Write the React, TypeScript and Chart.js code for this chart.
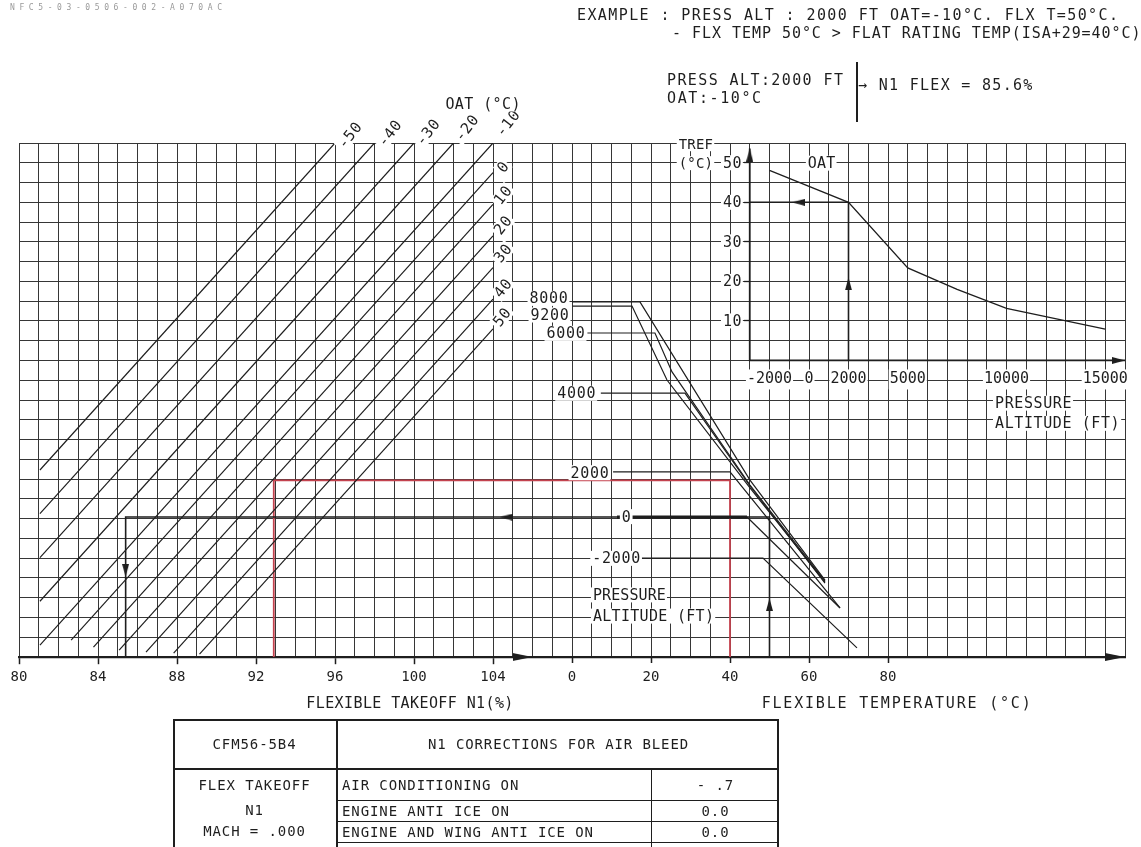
import React, { useEffect, useRef } from "react";
import { Chart, registerables } from "chart.js";

Chart.register(...registerables);

const FONT = "'DejaVu Sans Mono', 'Liberation Mono', monospace";
const INK = "#1e1e1e";
const GRID = "#363636";
const RED = "#c4434f";

// ---------- axes ----------
const N1_MIN = 80;
const N1_MAX = 136;
const N1_TICKS = [80, 84, 88, 92, 96, 100, 104];
const FLEX_MIN = -140;
const FLEX_MAX = 140;
const FLEX_TICKS = [0, 20, 40, 60, 80];
const ROW_MIN = 0;
const ROW_MAX = 26;
const ALT_MIN = -40000;
const ALT_MAX = 16000;
const ALT_TICKS = [-2000, 0, 2000, 5000, 10000, 15000];
const TREF_MIN = -75;
const TREF_MAX = 55;
const TREF_TICKS = [10, 20, 30, 40, 50];

// ---------- OAT lines in the N1 part: [N1 %, chart row] ----------
const OAT_NAMES = ["-50", "-40", "-30", "-20", "-10", "0", "10", "20", "30", "40", "50"];
const OAT_LOW = [
  [81.06, 9.46], [81.06, 7.25], [81.06, 5.03], [81.06, 2.82], [81.06, 0.6], [82.64, 0.85],
  [83.77, 0.5], [85.07, 0.35], [86.43, 0.25], [87.83, 0.2], [89.14, 0.15],
];
const OAT_HIGH = [
  [96, 26], [98, 26], [100, 26], [102, 26], [104, 26], [104, 24.5],
  [104, 22.9], [104, 21.3], [104, 19.7], [104, 18.1], [104, 16.6],
];
const OAT_LABEL_AT = [
  [96.76, 26.4], [98.78, 26.5], [100.71, 26.55], [102.68, 26.76], [104.76, 27.01], [104.51, 24.79],
  [104.51, 23.37], [104.51, 21.85], [104.51, 20.43], [104.51, 18.66], [104.46, 17.2],
];

// ---------- pressure altitude curves: [flex temp °C, chart row] ----------
const PA_NAMES = ["8000", "9200", "6000", "4000", "2000", "0", "-2000"];
const PA_CURVES = [
  [[0.1, 17.96], [17.2, 17.96], [45.06, 8.95], [64.05, 3.89]],
  [[0.1, 17.75], [15.19, 17.75], [24.05, 14.01], [45.06, 8.55], [64.05, 3.79]],
  [[3.9, 16.39], [21.0, 16.39], [25.32, 14.42], [45.06, 8.7], [64.05, 3.84]],
  [[7.3, 13.35], [28.6, 13.35], [45.06, 8.65], [64.05, 3.74]],
  [[10.4, 9.36], [40.0, 9.36], [67.85, 2.48]],
  [[11.4, 7.08], [44.3, 7.08], [67.85, 2.48]],
  [[14.3, 5.0], [48.35, 5.0], [72.15, 0.46]],
];
const PA_LABEL_AT = [
  [-5.82, 18.14], [-5.57, 17.3], [-1.52, 16.37], [1.19, 13.34], [4.56, 9.32], [13.85, 7.1], [11.3, 4.99],
];

// ---------- inset: reference temperature vs pressure altitude ----------
const INSET_ALT = [-2000, 2000, 5000, 7500, 10000, 15000];
const INSET_TREF = [48.1, 40, 23.4, 18.0, 13.2, 7.9];
const INSET_AXIS_ALT = -3000;
const INSET_AXIS_TOP = 53.6;

// ---------- worked example ----------
const EX_ALT = 2000;
const EX_TREF = 40;
const EX_FLEX = 50;
const EX_ROW = 7.08;
const EX_N1 = 85.4;
const RED_FLEX = 40;
const RED_ROW = 8.93;
const RED_N1 = 92.9;

// flex temperature expressed on the N1 scale (both scales share the plot width)
const flexToN1 = (t: number) =>
  N1_MIN + ((t - FLEX_MIN) / (FLEX_MAX - FLEX_MIN)) * (N1_MAX - N1_MIN);

const pts = (arr: number[][]) => arr.map(([x, y]) => ({ x, y }));

// arrowhead image: tip sits at the image centre, pointing up
function makeArrow(len: number, wid: number) {
  const c = document.createElement("canvas");
  c.width = wid;
  c.height = len * 2;
  const g = c.getContext("2d")!;
  g.fillStyle = INK;
  g.beginPath();
  g.moveTo(wid / 2, len);
  g.lineTo(wid, len * 2);
  g.lineTo(0, len * 2);
  g.closePath();
  g.fill();
  return c;
}

type Txt = {
  t: string;
  xs: string;
  x: number;
  ys: string;
  y: number;
  size?: number;
  align?: CanvasTextAlign;
  rot?: number;
  bg?: boolean;
  sp?: number;
};

const textPlugin = {
  id: "nomoText",
  afterDraw(chart: any, _a: any, opts: any) {
    const ctx = chart.ctx as CanvasRenderingContext2D;
    const items: Txt[] = opts.items || [];
    for (const it of items) {
      const px = chart.scales[it.xs].getPixelForValue(it.x);
      const py = chart.scales[it.ys].getPixelForValue(it.y);
      const size = it.size || 15;
      ctx.save();
      ctx.translate(px, py);
      if (it.rot) ctx.rotate((it.rot * Math.PI) / 180);
      ctx.font = `${size}px ${FONT}`;
      (ctx as any).letterSpacing = `${it.sp ?? 0.7}px`;
      ctx.textBaseline = "middle";
      ctx.textAlign = "left";
      const w = ctx.measureText(it.t).width;
      let x0 = -w / 2;
      if (it.align === "left") x0 = 0;
      if (it.align === "right") x0 = -w;
      if (it.bg !== false) {
        ctx.fillStyle = "#fff";
        ctx.fillRect(x0 - 2, -size * 0.5, w + 3, size * 1.0);
      }
      ctx.fillStyle = INK;
      ctx.fillText(it.t, x0, 1);
      ctx.restore();
    }
  },
};

const zeroFit = (s: any) => {
  s.paddingLeft = 0;
  s.paddingRight = 0;
  s.paddingTop = 0;
  s.paddingBottom = 0;
  if (s.isHorizontal()) s.height = 0;
  else s.width = 0;
};

const everyUnit = (min: number, max: number, step: number) => (s: any) => {
  const t: { value: number }[] = [];
  for (let v = min; v <= max + 1e-9; v += step) t.push({ value: v });
  s.ticks = t;
};
const fixedTicks = (vals: number[]) => (s: any) => {
  s.ticks = vals.map((value) => ({ value }));
};

export default function App() {
  const ref = useRef<HTMLCanvasElement>(null);

  useEffect(() => {
    const arrowBig = makeArrow(20, 8);
    const arrowSmall = makeArrow(13, 7);

    const line = (data: any[], xAxisID: string, yAxisID: string, color = INK, width = 1.2, extra: any = {}) => ({
      type: "scatter",
      data,
      xAxisID,
      yAxisID,
      showLine: true,
      borderColor: color,
      borderWidth: width,
      pointRadius: 0,
      pointHoverRadius: 0,
      tension: 0,
      fill: false,
      ...extra,
    });

    const datasets: any[] = [];
    OAT_NAMES.forEach((_, i) => {
      datasets.push(line(pts([OAT_LOW[i], OAT_HIGH[i]]), "xN", "yM", INK, 1.2));
    });
    PA_CURVES.forEach((c, i) => {
      const extra =
        PA_NAMES[i] === "0"
          ? { segment: { borderWidth: (s: any) => (s.p0DataIndex === 0 ? 3.2 : 1.2) } }
          : {};
      datasets.push(line(pts(c), "xT", "yM", INK, 1.2, extra));
    });

    // inset axes and curve
    datasets.push(
      line(
        [
          { x: INSET_AXIS_ALT, y: INSET_AXIS_TOP },
          { x: INSET_AXIS_ALT, y: 0 },
          { x: ALT_MAX, y: 0 },
        ],
        "xA",
        "yR",
        INK,
        1.8
      )
    );
    datasets.push(line(INSET_ALT.map((a, i) => ({ x: a, y: INSET_TREF[i] })), "xA", "yR", INK, 1.3));
    // inset example
    datasets.push(
      line(
        [
          { x: EX_ALT, y: 0 },
          { x: EX_ALT, y: EX_TREF },
          { x: INSET_AXIS_ALT, y: EX_TREF },
        ],
        "xA",
        "yR",
        INK,
        1.6
      )
    );
    // main example (black)
    datasets.push(
      line(
        [
          { x: EX_N1, y: 0 },
          { x: EX_N1, y: EX_ROW },
          { x: flexToN1(EX_FLEX), y: EX_ROW },
          { x: flexToN1(EX_FLEX), y: 0 },
        ],
        "xN",
        "yM",
        INK,
        1.6
      )
    );
    // red example
    datasets.push(
      line(
        [
          { x: RED_N1, y: 0 },
          { x: RED_N1, y: RED_ROW },
          { x: flexToN1(RED_FLEX), y: RED_ROW },
          { x: flexToN1(RED_FLEX), y: 0 },
        ],
        "xN",
        "yM",
        RED,
        1.8
      )
    );
    // arrowheads (tip at the data point)
    const arrowSet = (data: any[], rot: number[], img: HTMLCanvasElement, xAxisID: string, yAxisID: string) => ({
      type: "scatter",
      data,
      xAxisID,
      yAxisID,
      showLine: false,
      pointStyle: img,
      pointRadius: 6,
      pointHoverRadius: 6,
      pointRotation: rot,
      clip: false,
    });
    datasets.push(
      arrowSet(
        [
          { x: 106, y: 0 },
          { x: flexToN1(FLEX_MAX), y: 0 },
        ],
        [90, 90],
        arrowBig,
        "xN",
        "yM"
      )
    );
    datasets.push(
      arrowSet(
        [
          { x: 104.35, y: EX_ROW },
          { x: EX_N1, y: 4.05 },
          { x: flexToN1(EX_FLEX), y: 2.98 },
        ],
        [270, 180, 0],
        arrowSmall,
        "xN",
        "yM"
      )
    );
    datasets.push(
      arrowSet(
        [
          { x: INSET_AXIS_ALT, y: INSET_AXIS_TOP },
          { x: ALT_MAX, y: 0 },
          { x: -860, y: EX_TREF },
          { x: EX_ALT, y: 21 },
        ],
        [0, 90, 270, 0],
        arrowSmall,
        "xA",
        "yR"
      )
    );

    const texts: Txt[] = [];
    OAT_NAMES.forEach((n, i) =>
      texts.push({ t: n, xs: "xN", x: OAT_LABEL_AT[i][0], ys: "yM", y: OAT_LABEL_AT[i][1], rot: -52, size: 15, sp: 0.8 })
    );
    texts.push({ t: "OAT (°C)", xs: "xN", x: 103.5, ys: "yM", y: 27.97, size: 15, sp: 0.4 });
    PA_NAMES.forEach((n, i) =>
      texts.push({ t: n, xs: "xT", x: PA_LABEL_AT[i][0], ys: "yM", y: PA_LABEL_AT[i][1], size: 15, sp: 0.7 })
    );
    texts.push({ t: "PRESSURE", xs: "xT", x: 5.3, ys: "yM", y: 3.14, align: "left", size: 15, sp: 0.1 });
    texts.push({ t: "ALTITUDE (FT)", xs: "xT", x: 5.3, ys: "yM", y: 2.07, align: "left", size: 15, sp: 0.3 });
    texts.push({ t: "TREF", xs: "xA", x: -5722, ys: "yR", y: 54.7, size: 14, sp: 0.2 });
    texts.push({ t: "(°C)", xs: "xA", x: -5722, ys: "yR", y: 49.9, size: 14, sp: 0.2 });
    TREF_TICKS.forEach((v) =>
      texts.push({ t: String(v), xs: "xA", x: -3400, ys: "yR", y: v, align: "right", size: 15, sp: 0.4 })
    );
    texts.push({ t: "OAT", xs: "xA", x: 643, ys: "yR", y: 49.9, size: 15, sp: 0.2 });
    texts.push({ t: "PRESSURE", xs: "xA", x: 9418, ys: "yR", y: -10.8, align: "left", size: 15, sp: 0.6 });
    texts.push({ t: "ALTITUDE (FT)", xs: "xA", x: 9418, ys: "yR", y: -15.9, align: "left", size: 15, sp: 0.6 });
    texts.push({ t: "FLEXIBLE TAKEOFF N1(%)", xs: "xN", x: 99.8, ys: "yM", y: -2.35, size: 15, bg: false, sp: 0.4 });
    texts.push({ t: "FLEXIBLE TEMPERATURE (°C)", xs: "xT", x: 82.3, ys: "yM", y: -2.35, size: 15, bg: false, sp: 1.8 });

    const tickFont = { family: FONT, size: 14 };

    const chart = new Chart(ref.current!, {
      type: "scatter",
      data: { datasets },
      plugins: [textPlugin],
      options: {
        responsive: false,
        animation: false,
        devicePixelRatio: 1,
        events: [],
        layout: { autoPadding: false, padding: { left: 19, right: 16, top: 143, bottom: 190 } },
        plugins: {
          legend: { display: false },
          tooltip: { enabled: false },
          nomoText: { items: texts },
        } as any,
        scales: {
          xN: {
            type: "linear",
            axis: "x",
            position: { yM: 0 },
            min: N1_MIN,
            max: N1_MAX,
            afterBuildTicks: everyUnit(N1_MIN, N1_MAX, 1),
            afterFit: zeroFit,
            grid: {
              color: GRID,
              lineWidth: 1,
              drawTicks: true,
              tickLength: 6,
              tickWidth: 1.5,
              tickColor: (c: any) => (N1_TICKS.includes(c.tick?.value) ? INK : "rgba(0,0,0,0)"),
            },
            border: { display: true, color: INK, width: 2.2 },
            ticks: {
              autoSkip: false,
              maxRotation: 0,
              padding: 6,
              color: INK,
              font: tickFont,
              callback: (v: any) => (N1_TICKS.includes(v) ? String(v) : ""),
            },
          },
          xT: {
            type: "linear",
            axis: "x",
            position: { yM: 0 },
            min: FLEX_MIN,
            max: FLEX_MAX,
            afterBuildTicks: fixedTicks(FLEX_TICKS),
            afterFit: zeroFit,
            grid: { drawOnChartArea: false, drawTicks: true, tickLength: 6, tickWidth: 1.5, tickColor: INK },
            border: { display: false },
            ticks: {
              autoSkip: false,
              maxRotation: 0,
              padding: 6,
              color: INK,
              font: tickFont,
              callback: (v: any) => String(v),
            },
          },
          yM: {
            type: "linear",
            axis: "y",
            position: "left",
            min: ROW_MIN,
            max: ROW_MAX,
            afterBuildTicks: everyUnit(ROW_MIN, ROW_MAX, 1),
            afterFit: zeroFit,
            grid: { color: GRID, lineWidth: 1, drawTicks: false },
            border: { display: false },
            ticks: { display: false, autoSkip: false },
          },
          yR: {
            type: "linear",
            axis: "y",
            position: { xA: INSET_AXIS_ALT },
            min: TREF_MIN,
            max: TREF_MAX,
            afterBuildTicks: fixedTicks(TREF_TICKS),
            afterFit: zeroFit,
            grid: { drawOnChartArea: false, drawTicks: true, tickLength: 6, tickWidth: 1.3, tickColor: INK },
            border: { display: false },
            ticks: { display: false, autoSkip: false },
          },
          xA: {
            type: "linear",
            axis: "x",
            position: { yR: 0 },
            min: ALT_MIN,
            max: ALT_MAX,
            afterBuildTicks: fixedTicks(ALT_TICKS),
            afterFit: zeroFit,
            grid: { drawOnChartArea: false, drawTicks: false },
            border: { display: false },
            ticks: {
              autoSkip: false,
              maxRotation: 0,
              padding: 10,
              color: INK,
              font: { family: FONT, size: 15 },
              showLabelBackdrop: true,
              backdropColor: "#fff",
              backdropPadding: 1,
              callback: (v: any) => String(v),
            },
          },
        } as any,
      },
    } as any);
    return () => chart.destroy();
  }, []);

  const abs = (left: number, top: number, size: number, ls: number, extra: any = {}) => ({
    position: "absolute" as const,
    left,
    top,
    fontSize: size,
    letterSpacing: ls,
    lineHeight: 1,
    whiteSpace: "pre" as const,
    color: INK,
    fontFamily: FONT,
    ...extra,
  });

  const cell = (left: number, top: number, w: number, h: number, extra: any = {}) => ({
    position: "absolute" as const,
    left,
    top,
    width: w,
    height: h,
    boxSizing: "border-box" as const,
    ...extra,
  });

  const tt = { fontSize: 14, letterSpacing: 0.9, color: INK, whiteSpace: "pre" as const };
  const rowText = (h: number) => ({ ...tt, lineHeight: `${h}px` });

  return (
    <div
      style={{
        position: "fixed",
        left: 0,
        top: 0,
        width: 1141,
        height: 847,
        background: "#fff",
        overflow: "hidden",
        fontFamily: FONT,
      }}
    >
      <canvas ref={ref} width={1141} height={847} style={{ position: "absolute", left: 0, top: 0 }} />
      <div style={abs(10, 4, 8, 4.6, { color: "#999" })}>NFC5-03-0506-002-A070AC</div>
      <div style={abs(577, 8, 15, 1.4)}>EXAMPLE : PRESS ALT : 2000 FT OAT=-10°C. FLX T=50°C.</div>
      <div style={abs(672, 26, 15, 0.96)}>- FLX TEMP 50°C &gt; FLAT RATING TEMP(ISA+29=40°C)</div>
      <div style={abs(667, 73, 15, 1.4)}>PRESS ALT:2000 FT</div>
      <div style={abs(667, 91, 15, 1.6)}>OAT:-10°C</div>
      <div style={{ position: "absolute", left: 856, top: 62, width: 1.5, height: 60, background: INK }} />
      <div style={abs(858, 78, 15, 1.3)}>→ N1 FLEX = 85.6%</div>

      {/* air bleed table */}
      <div style={cell(173, 719, 606, 140, { border: `2px solid ${INK}` })} />
      <div style={cell(336, 719, 2, 140, { background: INK })} />
      <div style={cell(173, 768, 606, 2, { background: INK })} />
      <div style={cell(338, 800, 441, 1, { background: INK })} />
      <div style={cell(338, 821, 441, 1, { background: INK })} />
      <div style={cell(338, 842, 441, 1, { background: INK })} />
      <div style={cell(651, 770, 1, 90, { background: INK })} />
      <div style={cell(173, 719, 163, 50, { ...tt, display: "flex", alignItems: "center", justifyContent: "center" })}>CFM56-5B4</div>
      <div style={cell(338, 719, 441, 50, { ...tt, display: "flex", alignItems: "center", justifyContent: "center" })}>N1 CORRECTIONS FOR AIR BLEED</div>
      <div style={cell(173, 772, 163, 26, { ...rowText(26), textAlign: "center" })}>FLEX TAKEOFF</div>
      <div style={cell(173, 800, 163, 21, { ...rowText(21), textAlign: "center" })}>N1</div>
      <div style={cell(173, 821, 163, 21, { ...rowText(21), textAlign: "center" })}>MACH = .000</div>
      <div style={cell(342, 772, 300, 26, rowText(26))}>AIR CONDITIONING ON</div>
      <div style={cell(342, 801, 300, 20, rowText(20))}>ENGINE ANTI ICE ON</div>
      <div style={cell(342, 822, 300, 20, rowText(20))}>ENGINE AND WING ANTI ICE ON</div>
      <div style={cell(652, 772, 127, 26, { ...rowText(26), textAlign: "center" })}>- .7</div>
      <div style={cell(652, 801, 127, 20, { ...rowText(20), textAlign: "center" })}>0.0</div>
      <div style={cell(652, 822, 127, 20, { ...rowText(20), textAlign: "center" })}>0.0</div>
    </div>
  );
}
